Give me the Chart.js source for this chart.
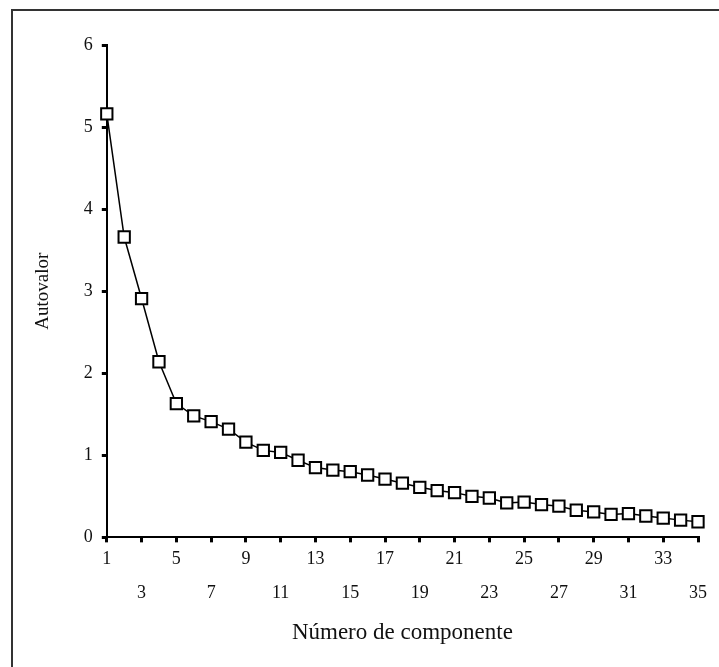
<!DOCTYPE html>
<html>
<head>
<meta charset="utf-8">
<script src="https://cdn.jsdelivr.net/npm/chart.js@4/dist/chart.umd.min.js"></script>
<style>
  html, body { margin: 0; padding: 0; background: #fff; overflow: hidden; }
  #wrap { position: relative; width: 719px; height: 667px; overflow: hidden; }
  #frame {
    position: absolute; left: 11px; top: 9px; width: 800px; height: 800px;
    border-left: 2px solid #333; border-top: 2px solid #333;
  }
  #screeChart { position: absolute; left: 0; top: 0; }
</style>
</head>
<body>
<div id="wrap">
  <div id="frame"></div>
  <canvas id="screeChart" width="719" height="667"></canvas>
</div>
<script>
// Scree plot: eigenvalue per component
const components = [1, 2, 3, 4, 5, 6, 7, 8, 9, 10, 11, 12, 13, 14, 15, 16, 17, 18,
                    19, 20, 21, 22, 23, 24, 25, 26, 27, 28, 29, 30, 31, 32, 33, 34, 35];
const eigenvalues = [5.16, 3.66, 2.91, 2.14, 1.63, 1.48, 1.41, 1.32, 1.16, 1.06,
                     1.035, 0.94, 0.85, 0.82, 0.80, 0.76, 0.71, 0.66, 0.61, 0.57,
                     0.545, 0.50, 0.48, 0.42, 0.43, 0.40, 0.38, 0.33, 0.31, 0.28,
                     0.29, 0.26, 0.235, 0.21, 0.19];
const xTicks = [1, 3, 5, 7, 9, 11, 13, 15, 17, 19, 21, 23, 25, 27, 29, 31, 33, 35];
const yTicks = [0, 1, 2, 3, 4, 5, 6];

const xTitle = 'Número de componente';
const yTitle = 'Autovalor';

const serif = "'Liberation Serif', 'DejaVu Serif', serif";

const config = {
    type: 'line',
    data: {
        datasets: [{
            label: yTitle,
            data: components.map((c, i) => ({ x: c, y: eigenvalues[i] })),
            borderColor: '#000',
            borderWidth: 1.5,
            pointStyle: 'rect',
            pointRadius: 8,
            pointHoverRadius: 8,
            pointBorderWidth: 2,
            pointBorderColor: '#000',
            pointBackgroundColor: '#fff',
            tension: 0,
            clip: false
        }]
    },
    options: {
        responsive: false,
        animation: false,
        layout: { padding: { left: 12, top: 45, right: 21, bottom: 17 } },
        plugins: {
            legend: { display: false },
            tooltip: { enabled: false }
        },
        scales: {
            x: {
                type: 'linear',
                min: xTicks[0],
                max: xTicks[xTicks.length - 1],
                afterBuildTicks: (axis) => { axis.ticks = xTicks.map(v => ({ value: v })); },
                border: { display: true, color: '#000', width: 2 },
                grid: { drawOnChartArea: false, color: '#000', lineWidth: 3, tickLength: 5 },
                ticks: {
                    color: '#111',
                    padding: 0,
                    maxRotation: 0,
                    autoSkip: false,
                    font: { family: serif, size: 18, lineHeight: 1.89 },
                    // staggered labels: odd positions on the second row
                    callback: (value, index) => index % 2 === 0 ? [String(value), ''] : ['', String(value)]
                },
                title: {
                    display: true,
                    text: xTitle,
                    color: '#111',
                    font: { family: serif, size: 23 },
                    padding: { top: 9, bottom: 3 }
                }
            },
            y: {
                min: yTicks[0],
                max: yTicks[yTicks.length - 1],
                afterBuildTicks: (axis) => { axis.ticks = yTicks.map(v => ({ value: v })); },
                border: { display: true, color: '#000', width: 2 },
                grid: { drawOnChartArea: false, color: '#000', lineWidth: 3, tickLength: 5 },
                ticks: {
                    color: '#111',
                    padding: 9,
                    font: { family: serif, size: 18 }
                },
                title: {
                    display: true,
                    text: yTitle,
                    color: '#111',
                    font: { family: serif, size: 19 },
                    padding: { top: 20, bottom: 20 }
                }
            }
        }
    }
};

const ctx = document.getElementById('screeChart').getContext('2d');
new Chart(ctx, config);
</script>
</body>
</html>
